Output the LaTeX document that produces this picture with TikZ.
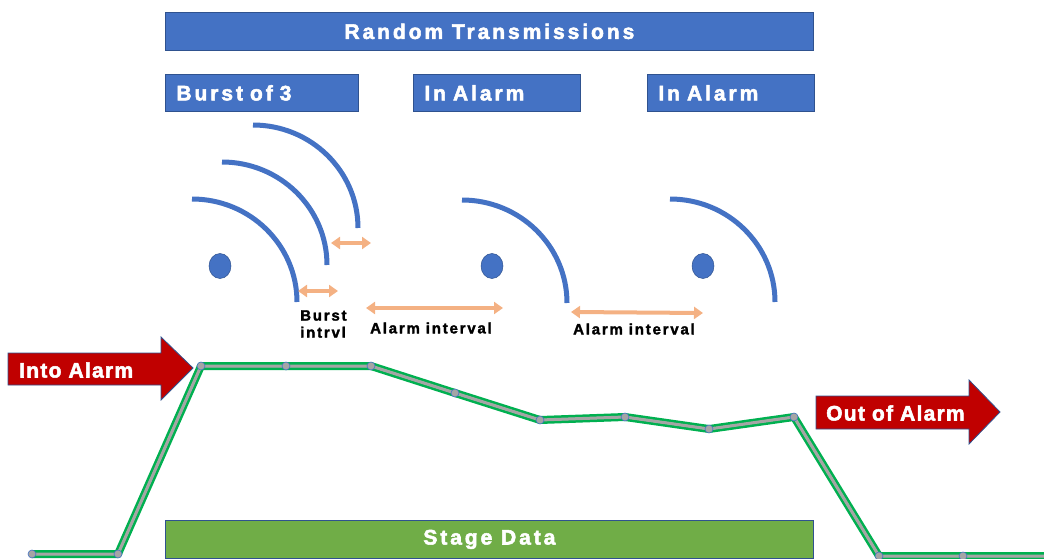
\documentclass[tikz,border=0pt]{standalone}
\usepackage{fontspec}
\setmainfont{Liberation Sans}
\newfontfamily\bannerfont{Liberation Sans Bold}[LetterSpace=14,FakeBold=2.5]
\newfontfamily\arrowfont{Liberation Sans Bold}[LetterSpace=6,FakeBold=2.5]
\newfontfamily\notefont{Liberation Sans Bold}[LetterSpace=12,FakeBold=2]
\usetikzlibrary{arrows.meta,shapes.geometric}
\definecolor{boxblue}{HTML}{4472C4}
\definecolor{edgeblue}{HTML}{2F528F}
\definecolor{alarmred}{HTML}{C00000}
\definecolor{stagegreen}{HTML}{70AD47}
\definecolor{linegreen}{HTML}{00B050}
\definecolor{linegray}{HTML}{A5A5A5}
\definecolor{gaporange}{HTML}{F4B183}

\begin{document}
\begin{tikzpicture}[x=1pt,y=-1pt,>=Latex]
  \tikzstyle{banner}=[draw=edgeblue,fill=boxblue,line width=0.8pt,text=white,inner sep=0pt,font=\bannerfont\fontsize{21}{25}\selectfont]
  \tikzstyle{tagbox}=[banner,anchor=north west,inner xsep=11pt,align=left,minimum height=37pt]
  \tikzstyle{wave}=[draw=boxblue,line width=5pt]
  \tikzstyle{dot}=[ellipse,fill=boxblue,draw=edgeblue,line width=0.5pt,minimum width=22pt,minimum height=25pt,inner sep=0pt]
  \tikzstyle{gap}=[<->,draw=gaporange,line width=4pt,>={Triangle[length=9pt,width=12pt]}]
  \tikzstyle{note}=[inner sep=0pt,font=\notefont\fontsize{15}{17}\selectfont]
  \tikzstyle{bigarrow}=[fill=alarmred,draw=edgeblue,line width=0.8pt]
  \tikzstyle{arrowtxt}=[text=white,anchor=west,inner sep=0pt,font=\arrowfont\fontsize{21}{25}\selectfont]
  \tikzstyle{lineback}=[draw=linegreen,line width=8pt,line join=round]
  \tikzstyle{linegap}=[draw=white,line width=2pt,line join=round,xshift=1pt,yshift=-2pt]
  \tikzstyle{linecore}=[draw=linegray,line width=3pt,line join=round,xshift=0.1pt,yshift=-0.3pt]
  \tikzstyle{ptmark}=[circle,fill=linegray,draw=boxblue,line width=0.6pt,minimum size=8pt,inner sep=0pt]
  \useasboundingbox (0,0) rectangle (1044,559);

  % banners
  \node[banner,anchor=north west,minimum width=648pt,minimum height=38pt] (random) at (165,12) {Random Transmissions};
  \node[tagbox,text width=171pt] (burst) at (165,74) {Burst of 3};
  \node[tagbox,text width=145pt] (alarmA) at (413,74) {In Alarm};
  \node[tagbox,text width=145pt] (alarmB) at (647,74) {In Alarm};

  % transmissions
  \foreach \n/\px in {1/220,2/492,3/703}
    \node[dot] (tx\n) at (\px,266) {};
  \foreach \sx/\sy in {192/199,222/162,253/125,462/200,670/199}
    \draw[wave] (\sx,\sy) arc[start angle=90,end angle=0,x radius=105pt,y radius=103pt];

  % intervals
  \coordinate (b1l) at (298,291); \coordinate (b1r) at (338,291);
  \coordinate (b2l) at (331,243); \coordinate (b2r) at (371,243);
  \coordinate (a1l) at (366,308); \coordinate (a1r) at (503,308);
  \coordinate (a2l) at (571,312); \coordinate (a2r) at (703,313);
  \draw[gap] (b1l) -- (b1r);
  \draw[gap] (b2l) -- (b2r);
  \draw[gap] (a1l) -- (a1r);
  \draw[gap] (a2l) -- (a2r);
  \node[note,anchor=west,align=left] (burstgap) at (300,324) {Burst\\intrvl};
  \node[note] (alarmgapA) at (431,328) {Alarm interval};
  \node[note] (alarmgapB) at (634,329) {Alarm interval};

  % alarm arrows
  \draw[bigarrow] (8,353) -- (161,353) -- (161,337) -- (193,368) -- (161,400) -- (161,385) -- (8,385) -- cycle;
  \node[arrowtxt] (into) at (19,370) {Into Alarm};
  \draw[bigarrow] (816,396) -- (969,396) -- (969,380) -- (1000,412) -- (969,444) -- (969,429) -- (816,429) -- cycle;
  \node[arrowtxt] (outof) at (826,413) {Out of Alarm};

  % stage data
  \node[banner,anchor=north west,fill=stagegreen,minimum width=648pt,minimum height=38pt] (stage) at (165,520) {Stage Data};
  \foreach \n/\px/\py in {1/32/554,2/118/554,3/201/366,4/286/366,5/371/366,6/455/393,
      7/540/420,8/625/417,9/709/429,10/794/417,11/879/556,12/963/556,13/1044/556}
    \coordinate (p\n) at (\px,\py);
  \foreach \st in {lineback,linegap,linecore}
    \draw[\st] (p1) \foreach \i in {2,...,13} { -- (p\i)};
  \foreach \i in {1,...,12}
    \node[ptmark] (m\i) at (p\i) {};
\end{tikzpicture}
\end{document}
